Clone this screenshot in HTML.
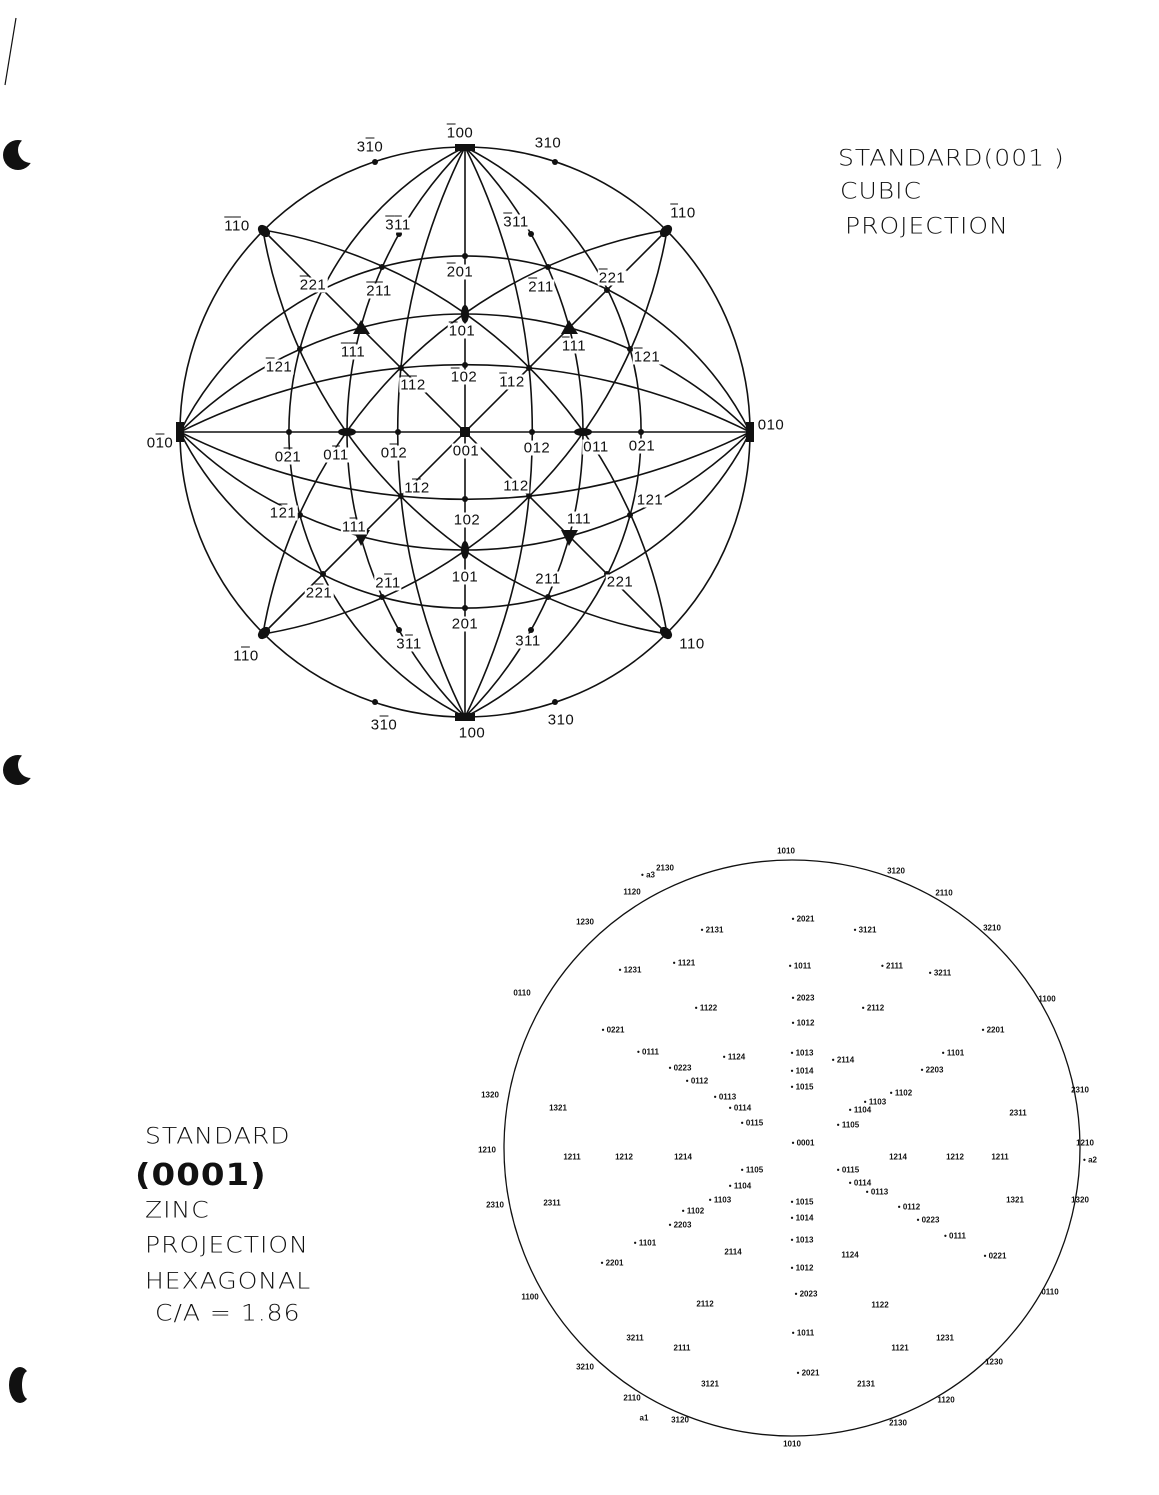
<!DOCTYPE html>
<html><head><meta charset="utf-8"><style>
html,body{margin:0;background:#fff;width:1159px;height:1495px;overflow:hidden}
#w{position:relative;width:1159px;height:1495px;overflow:hidden;background:#fff;font-family:"Liberation Sans",sans-serif;color:#111}
.l{position:absolute;font-size:15px;transform:translate(-50%,-50%);white-space:nowrap;letter-spacing:0.5px;background:#fff;padding:0 1px;line-height:15px}
.s{position:absolute;font-size:8px;font-weight:bold;white-space:nowrap;transform:translate(-50%,-50%)}
o{text-decoration:overline}
.h{position:absolute;font-family:"DejaVu Sans",sans-serif;font-weight:200;font-size:25px;letter-spacing:1px;white-space:nowrap;transform:scaleY(0.9);transform-origin:left top}
svg{position:absolute;left:0;top:0}
</style></head><body><div id="w">
<svg width="1159" height="1495" viewBox="0 0 1159 1495">
<defs><clipPath id="c"><circle cx="465" cy="432" r="285"/></clipPath></defs>
<g fill="none" stroke="#111" stroke-width="1.6">
<circle cx="465" cy="432" r="285"/>
<g clip-path="url(#c)">
<circle cx="465" cy="147" r="403"/><circle cx="465" cy="717" r="403"/><circle cx="180" cy="432" r="403"/><circle cx="750" cy="432" r="403"/>
<circle cx="465" cy="289.5" r="318.6"/><circle cx="465" cy="574.5" r="318.6"/><circle cx="322.5" cy="432" r="318.6"/><circle cx="607.5" cy="432" r="318.6"/>
<circle cx="465" cy="-138" r="637.3"/><circle cx="465" cy="1002" r="637.3"/><circle cx="-105" cy="432" r="637.3"/><circle cx="1035" cy="432" r="637.3"/>
<circle cx="180" cy="147" r="494"/><circle cx="750" cy="147" r="494"/><circle cx="180" cy="717" r="494"/><circle cx="750" cy="717" r="494"/>
<line x1="180" y1="432" x2="750" y2="432"/><line x1="465" y1="147" x2="465" y2="717"/>
<line x1="264" y1="231" x2="666" y2="633"/><line x1="666" y1="231" x2="264" y2="633"/>
</g>
<circle cx="792" cy="1148" r="288" stroke-width="1.3"/>
<path d="M5 85 L16 18" stroke-width="1.2"/>
</g>
<g fill="#111">
<rect x="455" y="144" width="20" height="7"/><rect x="455" y="713" width="20" height="8"/><rect x="176" y="422" width="8" height="20"/><rect x="746" y="422" width="8" height="20"/>
<ellipse cx="666" cy="633" rx="7" ry="5" transform="rotate(45 666 633)"/><ellipse cx="264" cy="633" rx="7" ry="5" transform="rotate(-45 264 633)"/>
<ellipse cx="666" cy="231" rx="7" ry="5" transform="rotate(-45 666 231)"/><ellipse cx="264" cy="231" rx="7" ry="5" transform="rotate(45 264 231)"/>
<ellipse cx="583" cy="432" rx="9" ry="4"/><ellipse cx="347" cy="432" rx="9" ry="4"/><ellipse cx="465" cy="550" rx="4" ry="9"/><ellipse cx="465" cy="314" rx="4" ry="9"/>
<path d="M561 530 L578 530 L569 546Z"/><path d="M353 530 L370 530 L361 546Z"/><path d="M561 334 L578 334 L569 320Z"/><path d="M353 334 L370 334 L361 320Z"/>
<g>
<circle cx="465" cy="499" r="3"/><circle cx="465" cy="365" r="3"/><circle cx="532" cy="432" r="3"/><circle cx="398" cy="432" r="3"/>
<circle cx="465" cy="608" r="3"/><circle cx="465" cy="256" r="3"/><circle cx="641" cy="432" r="3"/><circle cx="289" cy="432" r="3"/>
<circle cx="529" cy="496" r="3"/><circle cx="401" cy="496" r="3"/><circle cx="529" cy="368" r="3"/><circle cx="401" cy="368" r="3"/>
<circle cx="548" cy="597" r="3"/><circle cx="382" cy="597" r="3"/><circle cx="548" cy="267" r="3"/><circle cx="382" cy="267" r="3"/>
<circle cx="630" cy="515" r="3"/><circle cx="300" cy="515" r="3"/><circle cx="630" cy="349" r="3"/><circle cx="300" cy="349" r="3"/>
<circle cx="607" cy="574" r="3"/><circle cx="323" cy="574" r="3"/><circle cx="607" cy="290" r="3"/><circle cx="323" cy="290" r="3"/>
<circle cx="531" cy="630" r="3"/><circle cx="399" cy="630" r="3"/><circle cx="531" cy="234" r="3"/><circle cx="399" cy="234" r="3"/>
<circle cx="555" cy="702" r="3"/><circle cx="375" cy="702" r="3"/><circle cx="555" cy="162" r="3"/><circle cx="375" cy="162" r="3"/>
<rect x="460" y="427" width="10" height="10"/>
</g>
<circle cx="18" cy="155" r="15"/><circle cx="18" cy="770" r="15"/>
<ellipse cx="20" cy="1385" rx="11" ry="18"/>
</g>
<g fill="#fff">
<circle cx="31" cy="150" r="13"/><circle cx="31" cy="765" r="13"/>
<ellipse cx="28" cy="1385" rx="6" ry="14"/>
</g>
</svg>

<div class="l" style="left:370px;top:147px">3<o>1</o>0</div>
<div class="l" style="left:460px;top:133px"><o>1</o>00</div>
<div class="l" style="left:548px;top:143px">310</div>
<div class="l" style="left:237px;top:226px"><o>1</o><o>1</o>0</div>
<div class="l" style="left:683px;top:213px"><o>1</o>10</div>
<div class="l" style="left:398px;top:225px"><o>3</o><o>1</o>1</div>
<div class="l" style="left:516px;top:222px"><o>3</o>11</div>
<div class="l" style="left:460px;top:272px"><o>2</o>01</div>
<div class="l" style="left:313px;top:285px"><o>2</o>21</div>
<div class="l" style="left:612px;top:278px"><o>2</o>21</div>
<div class="l" style="left:379px;top:291px"><o>2</o><o>1</o>1</div>
<div class="l" style="left:541px;top:287px"><o>2</o>11</div>
<div class="l" style="left:462px;top:331px"><o>1</o>01</div>
<div class="l" style="left:353px;top:352px"><o>1</o><o>1</o>1</div>
<div class="l" style="left:574px;top:346px"><o>1</o>11</div>
<div class="l" style="left:279px;top:367px"><o>1</o>21</div>
<div class="l" style="left:647px;top:357px"><o>1</o>21</div>
<div class="l" style="left:413px;top:385px"><o>1</o><o>1</o>2</div>
<div class="l" style="left:464px;top:377px"><o>1</o>02</div>
<div class="l" style="left:512px;top:382px"><o>1</o>12</div>
<div class="l" style="left:160px;top:443px">0<o>1</o>0</div>
<div class="l" style="left:771px;top:425px">010</div>
<div class="l" style="left:288px;top:457px">0<o>2</o>1</div>
<div class="l" style="left:336px;top:455px">0<o>1</o>1</div>
<div class="l" style="left:394px;top:453px">0<o>1</o>2</div>
<div class="l" style="left:466px;top:451px">001</div>
<div class="l" style="left:537px;top:448px">012</div>
<div class="l" style="left:596px;top:447px">011</div>
<div class="l" style="left:642px;top:446px">021</div>
<div class="l" style="left:417px;top:488px">1<o>1</o>2</div>
<div class="l" style="left:516px;top:486px">112</div>
<div class="l" style="left:283px;top:513px">1<o>2</o>1</div>
<div class="l" style="left:650px;top:500px">121</div>
<div class="l" style="left:354px;top:527px">1<o>1</o>1</div>
<div class="l" style="left:579px;top:519px">111</div>
<div class="l" style="left:467px;top:520px">102</div>
<div class="l" style="left:465px;top:577px">101</div>
<div class="l" style="left:388px;top:583px">2<o>1</o>1</div>
<div class="l" style="left:548px;top:579px">211</div>
<div class="l" style="left:319px;top:593px">2<o>2</o>1</div>
<div class="l" style="left:620px;top:582px">221</div>
<div class="l" style="left:465px;top:624px">201</div>
<div class="l" style="left:409px;top:644px">3<o>1</o>1</div>
<div class="l" style="left:528px;top:641px">311</div>
<div class="l" style="left:246px;top:656px">1<o>1</o>0</div>
<div class="l" style="left:692px;top:644px">110</div>
<div class="l" style="left:384px;top:725px">3<o>1</o>0</div>
<div class="l" style="left:472px;top:733px">100</div>
<div class="l" style="left:561px;top:720px">310</div>

<div class="h" style="left:838px;top:145px">STANDARD(001 )</div>
<div class="h" style="left:840px;top:178px">CUBIC</div>
<div class="h" style="left:845px;top:213px">PROJECTION</div>

<div class="h" style="left:145px;top:1123px">STANDARD</div>
<div class="h" style="left:135px;top:1157px;font-size:34px;font-weight:bold">(0001)</div>
<div class="h" style="left:145px;top:1197px">ZINC</div>
<div class="h" style="left:145px;top:1232px">PROJECTION</div>
<div class="h" style="left:145px;top:1268px">HEXAGONAL</div>
<div class="h" style="left:155px;top:1300px">C/A = 1.86</div>

<div class="s" style="left:786px;top:851px">1010</div>
<div class="s" style="left:896px;top:871px">3120</div>
<div class="s" style="left:944px;top:893px">2110</div>
<div class="s" style="left:992px;top:928px">3210</div>
<div class="s" style="left:1047px;top:999px">1100</div>
<div class="s" style="left:1080px;top:1090px">2310</div>
<div class="s" style="left:1085px;top:1143px">1210</div>
<div class="s" style="left:1090px;top:1160px">• a2</div>
<div class="s" style="left:1080px;top:1200px">1320</div>
<div class="s" style="left:1050px;top:1292px">0110</div>
<div class="s" style="left:994px;top:1362px">1230</div>
<div class="s" style="left:946px;top:1400px">1120</div>
<div class="s" style="left:898px;top:1423px">2130</div>
<div class="s" style="left:792px;top:1444px">1010</div>
<div class="s" style="left:680px;top:1420px">3120</div>
<div class="s" style="left:632px;top:1398px">2110</div>
<div class="s" style="left:644px;top:1418px">a1</div>
<div class="s" style="left:585px;top:1367px">3210</div>
<div class="s" style="left:530px;top:1297px">1100</div>
<div class="s" style="left:495px;top:1205px">2310</div>
<div class="s" style="left:487px;top:1150px">1210</div>
<div class="s" style="left:490px;top:1095px">1320</div>
<div class="s" style="left:522px;top:993px">0110</div>
<div class="s" style="left:585px;top:922px">1230</div>
<div class="s" style="left:632px;top:892px">1120</div>
<div class="s" style="left:665px;top:868px">2130</div>
<div class="s" style="left:648px;top:875px">• a3</div>
<div class="s" style="left:712px;top:930px">• 2131</div>
<div class="s" style="left:803px;top:919px">• 2021</div>
<div class="s" style="left:865px;top:930px">• 3121</div>
<div class="s" style="left:630px;top:970px">• 1231</div>
<div class="s" style="left:684px;top:963px">• 1121</div>
<div class="s" style="left:800px;top:966px">• 1011</div>
<div class="s" style="left:892px;top:966px">• 2111</div>
<div class="s" style="left:940px;top:973px">• 3211</div>
<div class="s" style="left:706px;top:1008px">• 1122</div>
<div class="s" style="left:803px;top:998px">• 2023</div>
<div class="s" style="left:873px;top:1008px">• 2112</div>
<div class="s" style="left:803px;top:1023px">• 1012</div>
<div class="s" style="left:613px;top:1030px">• 0221</div>
<div class="s" style="left:993px;top:1030px">• 2201</div>
<div class="s" style="left:648px;top:1052px">• 0111</div>
<div class="s" style="left:734px;top:1057px">• 1124</div>
<div class="s" style="left:802px;top:1053px">• 1013</div>
<div class="s" style="left:843px;top:1060px">• 2114</div>
<div class="s" style="left:953px;top:1053px">• 1101</div>
<div class="s" style="left:680px;top:1068px">• 0223</div>
<div class="s" style="left:802px;top:1071px">• 1014</div>
<div class="s" style="left:932px;top:1070px">• 2203</div>
<div class="s" style="left:697px;top:1081px">• 0112</div>
<div class="s" style="left:802px;top:1087px">• 1015</div>
<div class="s" style="left:725px;top:1097px">• 0113</div>
<div class="s" style="left:901px;top:1093px">• 1102</div>
<div class="s" style="left:740px;top:1108px">• 0114</div>
<div class="s" style="left:875px;top:1102px">• 1103</div>
<div class="s" style="left:860px;top:1110px">• 1104</div>
<div class="s" style="left:752px;top:1123px">• 0115</div>
<div class="s" style="left:848px;top:1125px">• 1105</div>
<div class="s" style="left:558px;top:1108px">1321</div>
<div class="s" style="left:1018px;top:1113px">2311</div>
<div class="s" style="left:803px;top:1143px">• 0001</div>
<div class="s" style="left:572px;top:1157px">1211</div>
<div class="s" style="left:624px;top:1157px">1212</div>
<div class="s" style="left:683px;top:1157px">1214</div>
<div class="s" style="left:898px;top:1157px">1214</div>
<div class="s" style="left:955px;top:1157px">1212</div>
<div class="s" style="left:1000px;top:1157px">1211</div>
<div class="s" style="left:752px;top:1170px">• 1105</div>
<div class="s" style="left:740px;top:1186px">• 1104</div>
<div class="s" style="left:848px;top:1170px">• 0115</div>
<div class="s" style="left:860px;top:1183px">• 0114</div>
<div class="s" style="left:877px;top:1192px">• 0113</div>
<div class="s" style="left:720px;top:1200px">• 1103</div>
<div class="s" style="left:552px;top:1203px">2311</div>
<div class="s" style="left:1015px;top:1200px">1321</div>
<div class="s" style="left:802px;top:1202px">• 1015</div>
<div class="s" style="left:693px;top:1211px">• 1102</div>
<div class="s" style="left:909px;top:1207px">• 0112</div>
<div class="s" style="left:802px;top:1218px">• 1014</div>
<div class="s" style="left:680px;top:1225px">• 2203</div>
<div class="s" style="left:928px;top:1220px">• 0223</div>
<div class="s" style="left:802px;top:1240px">• 1013</div>
<div class="s" style="left:955px;top:1236px">• 0111</div>
<div class="s" style="left:645px;top:1243px">• 1101</div>
<div class="s" style="left:733px;top:1252px">2114</div>
<div class="s" style="left:850px;top:1255px">1124</div>
<div class="s" style="left:612px;top:1263px">• 2201</div>
<div class="s" style="left:995px;top:1256px">• 0221</div>
<div class="s" style="left:802px;top:1268px">• 1012</div>
<div class="s" style="left:806px;top:1294px">• 2023</div>
<div class="s" style="left:705px;top:1304px">2112</div>
<div class="s" style="left:880px;top:1305px">1122</div>
<div class="s" style="left:635px;top:1338px">3211</div>
<div class="s" style="left:682px;top:1348px">2111</div>
<div class="s" style="left:803px;top:1333px">• 1011</div>
<div class="s" style="left:900px;top:1348px">1121</div>
<div class="s" style="left:945px;top:1338px">1231</div>
<div class="s" style="left:710px;top:1384px">3121</div>
<div class="s" style="left:808px;top:1373px">• 2021</div>
<div class="s" style="left:866px;top:1384px">2131</div>
</div></body></html>
